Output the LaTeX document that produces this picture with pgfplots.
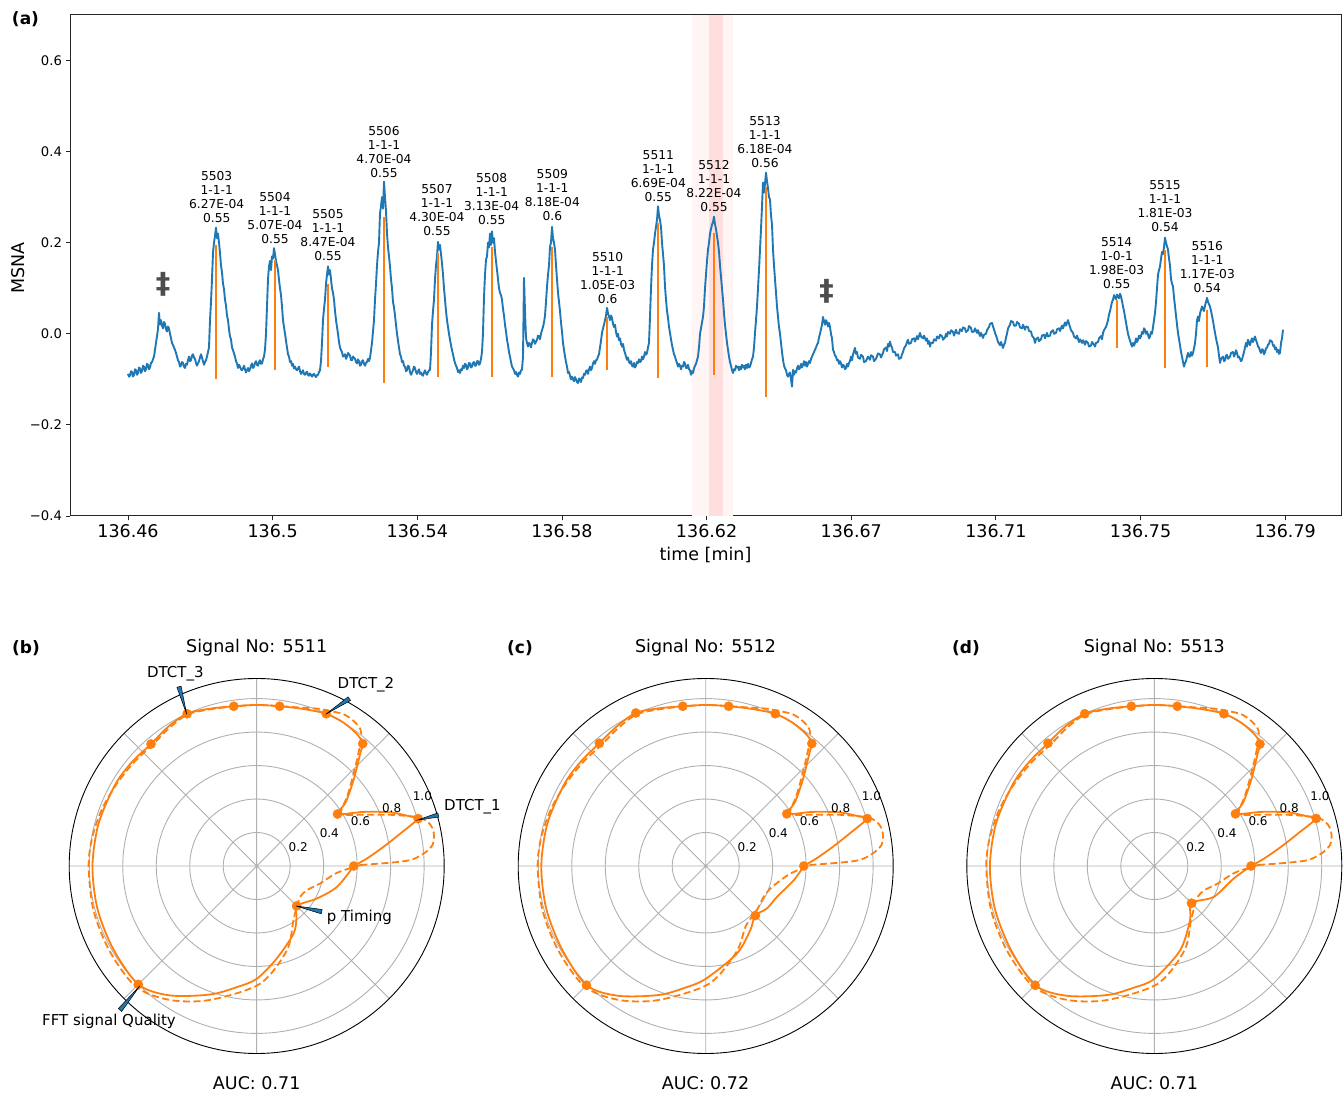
\documentclass[border=0pt]{standalone}
\usepackage{fontspec}
\setmainfont{DejaVu Sans}
\usepackage{pgfplots}
\usepackage{pgfplotstable}
\pgfplotsset{compat=1.18}
\usepgfplotslibrary{polar}
\definecolor{mplblue}{HTML}{1F77B4}
\definecolor{mplorange}{HTML}{FF7F0E}
\definecolor{bandlight}{RGB}{255,245,245}
\definecolor{banddark}{RGB}{255,222,222}
\definecolor{daggercol}{RGB}{77,77,77}
\definecolor{gridgray}{RGB}{176,176,176}

\pgfplotstableread{
a r
0 0.58
4 0.662
8.7 0.769
12.8 0.882
16.36 1.005
17.8 0.966
21.8 0.862
26.8 0.717
32.73 0.574
35.4 0.65
41.7 0.776
47.5 0.917
49.09 0.967
52.6 0.989
58.7 1.001
65.45 1.0
73.6 0.978
81.82 0.964
90 0.962
98.18 0.964
106.4 0.98
114.55 1.0
122.7 0.985
130.91 0.964
140 0.97
150 0.975
165 0.978
180 0.981
195 0.985
210 0.99
225 1.0
236 0.932
250 0.817
260.6 0.734
270 0.674
282 0.567
298.6 0.46
308 0.387
315 0.337
331.7 0.409
345.5 0.496
360 0.58
}\solidb

\pgfplotstableread{
a r
0 0.586
4 0.665
8.7 0.771
12.8 0.884
16.36 1.006
17.8 0.966
21.8 0.862
26.8 0.717
32.73 0.576
35.4 0.652
41.7 0.778
47.5 0.918
49.09 0.968
52.6 0.99
58.7 1.001
65.45 1.0
73.6 0.978
81.82 0.964
90 0.962
98.18 0.964
106.4 0.982
114.55 1.005
122.7 0.988
130.91 0.97
140 0.972
150 0.976
165 0.979
180 0.982
195 0.986
210 0.992
225 1.007
236 0.935
250 0.82
260.6 0.736
270 0.674
289.5 0.556
304.7 0.467
315 0.419
325.2 0.445
336.6 0.464
350.8 0.533
360 0.586
}\solidc

\pgfplotstableread{
a r
0 0.578
4 0.66
8.7 0.768
12.8 0.882
16.36 1.008
17.8 0.966
21.8 0.862
26.8 0.717
32.73 0.576
35.4 0.65
41.7 0.776
47.5 0.915
49.09 0.964
52.6 0.988
58.7 1.001
65.45 1.0
73.6 0.978
81.82 0.964
90 0.962
98.18 0.964
106.4 0.98
114.55 1.0
122.7 0.988
130.91 0.97
140 0.972
150 0.976
165 0.979
180 0.982
195 0.986
210 0.992
225 1.007
236 0.935
250 0.82
260.6 0.736
270 0.674
287 0.527
303.4 0.388
315 0.314
332.5 0.4
351 0.48
360 0.578
}\solidd

\pgfplotstableread{
a r
0.55 0.62
1.43 0.8
2.24 0.921
4.35 1.003
6.84 1.058
9.5 1.074
12.1 1.074
14.6 1.054
16.9 1.003
20.9 0.857
26.3 0.69
30.5 0.603
32.9 0.6
37.6 0.682
42.2 0.769
46.7 0.874
50.5 0.98
52.8 1.025
56.2 1.042
60.1 1.045
64.6 1.025
69 1.007
75 0.98
81.8 0.965
90 0.962
98 0.962
106 0.975
114.5 0.995
122.7 0.975
130 0.955
140 0.96
150 0.97
160 0.985
170 0.997
180 1.004
195 1.01
210 1.015
225 1.02
237 0.954
250.7 0.848
271.6 0.704
289.7 0.535
304 0.392
314.5 0.342
324.7 0.318
334.4 0.333
344.7 0.394
355.2 0.482
360.55 0.62
}\dashedb

\pgfplotstableread{
a r
0.55 0.62
1.43 0.8
2.24 0.921
4.35 1.003
6.84 1.058
9.5 1.074
12.1 1.074
14.6 1.054
16.9 1.003
20.9 0.857
26.3 0.69
30.5 0.603
32.9 0.6
37.6 0.682
42.2 0.769
46.7 0.874
50.5 0.98
52.8 1.025
56.2 1.042
60.1 1.045
64.6 1.025
69 1.007
75 0.98
81.8 0.965
90 0.962
98 0.962
106 0.975
114.5 0.995
122.7 0.975
130 0.955
140 0.96
150 0.97
160 0.985
170 0.997
180 1.004
195 1.01
210 1.015
225 1.02
237 0.954
250.7 0.848
271.6 0.704
289.7 0.545
304 0.43
319 0.404
332 0.392
341 0.41
349 0.454
355 0.51
360.55 0.62
}\dashedc

\pgfplotstableread{
a r
0 0.58
16.36 1.005
32.73 0.574
49.09 0.967
65.45 1.0
81.82 0.964
98.18 0.964
114.55 1.0
130.91 0.964
225 1.0
315 0.337
}\markb

\pgfplotstableread{
a r
0 0.586
16.36 1.006
32.73 0.576
49.09 0.968
65.45 1.0
81.82 0.964
98.18 0.964
114.55 1.005
130.91 0.97
225 1.007
315 0.419
}\markc

\pgfplotstableread{
a r
0 0.578
16.36 1.008
32.73 0.576
49.09 0.964
65.45 1.0
81.82 0.964
98.18 0.964
114.55 1.0
130.91 0.97
225 1.007
315 0.314
}\markd

\pgfplotsset{
  mypolar/.style={
    scale only axis, width=375pt, height=375pt, anchor=center,
    xmin=0, xmax=360, ymin=0, ymax=1.12,
    xtick={0,45,...,315}, xticklabels={},
    ytick={0.2,0.4,0.6,0.8,1.0}, yticklabels={},
    grid=major, major grid style={color=gridgray, line width=0.9pt},
    x axis line style={black, line width=0.9pt},
    y axis line style={draw=none},
    major tick length=0pt,
    clip=false,
  },
  soliddat/.style={mplorange, line width=1.8pt, smooth, tension=0.5},
  dashdat/.style={mplorange, line width=1.8pt, smooth, tension=0.5, dash pattern=on 7pt off 3.5pt},
  markdat/.style={only marks, mark=*, mark size=4.6pt, mark options={fill=mplorange, draw=mplorange}},
}
\newcommand{\radlabels}{%
  \node[font=\fontsize{12}{14}\selectfont] at (axis cs:24.3,0.272) {0.2};
  \node[font=\fontsize{12}{14}\selectfont] at (axis cs:24.3,0.476) {0.4};
  \node[font=\fontsize{12}{14}\selectfont] at (axis cs:23.5,0.676) {0.6};
  \node[font=\fontsize{12}{14}\selectfont] at (axis cs:23.2,0.877) {0.8};
  \node[font=\fontsize{12}{14}\selectfont] at (axis cs:23.0,1.075) {1.0};
}
\newcommand{\ann}[3]{\node[anchor=south, inner sep=0pt, align=center, font=\fontsize{12.25}{14}\selectfont] at (axis cs:#1,#2) {#3};}

\begin{document}
\begin{tikzpicture}[x=1pt,y=1pt]
\useasboundingbox (0,0) rectangle (1344,1095);
\begin{axis}[
  at={(70pt,579pt)}, anchor=south west,
  scale only axis, width=1271pt, height=501pt,
  xmin=-58, xmax=1213, ymin=-0.4, ymax=0.7,
  xtick={0,144.65,289.3,433.95,578.6,723.25,867.9,1012.55,1157.2},
  xticklabels={136.46,136.5,136.54,136.58,136.62,136.67,136.71,136.75,136.79},
  ytick={-0.4,-0.2,0,0.2,0.4,0.6},
  yticklabels={−0.4,−0.2,0.0,0.2,0.4,0.6},
  xticklabel style={font=\fontsize{17.5}{21}\selectfont},
  yticklabel style={font=\fontsize{13.2}{16}\selectfont},
  tick align=outside, tick pos=left, major tick length=4.5pt,
  axis line style={black!85, line width=1pt},
  tick style={black!85, line width=0.9pt},
  unbounded coords=jump,
]
\fill[bandlight] (axis cs:564,-0.4) rectangle (axis cs:605,0.7);
\fill[banddark] (axis cs:581,-0.4) rectangle (axis cs:595,0.7);
\addplot[mplblue, line width=1.9pt, line join=round] coordinates {
(0,-0.088)(1,-0.094)(2,-0.092)(3,-0.082)(4,-0.084)(5,-0.094)(6,-0.090)(7,-0.078)(8,-0.080)(9,-0.09)(10,-0.086)(11,-0.074)(12,-0.076)(13,-0.086)(14,-0.082)(15,-0.07)(16,-0.072)(17,-0.082)(18,-0.078)(19,-0.066)(20,-0.068)(21,-0.078)(22,-0.074)(23,-0.064)(24,-0.062)
(26,-0.05)(28,-0.02)(30,0.01)(31,0.046)(32,0.02)(33,0.03)(34,0.018)(35,0.012)(36,0.026)(37,0.022)(38,0.01)(39,0.005)(40,0.016)(41,0.012)(42,0.0)
(43,-0.01)(44,-0.02)(45,-0.025)(46,-0.03)(47,-0.035)(48,-0.042)(49,-0.05)(50,-0.058)(51,-0.062)(52,-0.072)(53,-0.07)(54,-0.062)(55,-0.064)(56,-0.072)(57,-0.075)(58,-0.066)(59,-0.068)(60,-0.058)(61,-0.05)(62,-0.06)(63,-0.058)(64,-0.048)(65,-0.045)(66,-0.052)(67,-0.055)(68,-0.064)(69,-0.07)(70,-0.065)(71,-0.06)(72,-0.052)(73,-0.045)(74,-0.052)(75,-0.06)(76,-0.068)(77,-0.062)(78,-0.058)
(79,-0.05)(81,-0.03)(82,0.03)(83,0.07)(84,0.12)(85,0.178)(86,0.2)(87,0.215)(88,0.233)(89,0.21)(90,0.22)(91,0.2)(92,0.178)(93,0.15)(94,0.135)(95,0.11)(96,0.098)(97,0.075)(98,0.062)(99,0.04)(100,0.03)(101,0.01)(102,-0.006)(103,-0.012)(104,-0.03)(105,-0.036)(107,-0.05)(108,-0.06)(109,-0.065)(110,-0.075)(111,-0.068)(112,-0.072)
(113,-0.078)(114,-0.08)(115,-0.076)(116,-0.07)(117,-0.078)(118,-0.085)(119,-0.08)(120,-0.075)(121,-0.082)(122,-0.078)(123,-0.07)(124,-0.065)(125,-0.075)(126,-0.072)(127,-0.064)(128,-0.06)(129,-0.068)(130,-0.07)(131,-0.062)(132,-0.058)(133,-0.066)(134,-0.065)(135,-0.056)(136,-0.05)
(137,-0.035)(138,0.0)(139,0.06)(140,0.12)(141,0.148)(142,0.16)(143,0.14)(144,0.17)(145,0.165)(146,0.188)(147,0.175)(148,0.16)(149,0.15)(150,0.14)(151,0.118)(152,0.1)(153,0.085)(154,0.06)(155,0.03)(156,0.015)(157,0.0)(158,-0.015)(159,-0.03)(160,-0.045)(161,-0.05)(162,-0.062)(163,-0.06)(164,-0.07)(165,-0.066)(166,-0.076)(167,-0.072)
(168,-0.078)(169,-0.08)(170,-0.076)(171,-0.072)(172,-0.082)(173,-0.088)(174,-0.084)(175,-0.08)(176,-0.088)(177,-0.09)(178,-0.086)(179,-0.083)(180,-0.09)(181,-0.092)(182,-0.087)(183,-0.09)(184,-0.094)(185,-0.09)(186,-0.088)(187,-0.092)(188,-0.095)(189,-0.091)(190,-0.09)(191,-0.084)(192,-0.08)
(193,-0.06)(194,-0.02)(195,0.03)(196,0.055)(197,0.075)(198,0.11)(199,0.13)(200,0.148)(201,0.13)(202,0.14)(203,0.12)(204,0.1)(205,0.09)(206,0.075)(207,0.05)(208,0.03)(209,0.015)(210,0.0)(211,-0.018)(212,-0.03)(213,-0.036)(214,-0.04)(215,-0.05)(217,-0.045)(218,-0.055)(219,-0.05)(220,-0.042)(222,-0.048)(223,-0.058)(224,-0.058)(225,-0.05)(227,-0.055)
(228,-0.062)(229,-0.065)(230,-0.056)(231,-0.06)(232,-0.07)(233,-0.068)(234,-0.06)(235,-0.058)(236,-0.066)(237,-0.07)(238,-0.064)(239,-0.062)(240,-0.055)(241,-0.06)
(242,-0.053)(244,-0.02)(246,0.03)(247,0.075)(248,0.11)(249,0.15)(250,0.18)(251,0.2)(252,0.265)(253,0.28)(254,0.3)(255,0.275)(256,0.334)(257,0.3)(258,0.27)(259,0.22)(260,0.19)(261,0.17)(262,0.148)(263,0.12)(264,0.1)(265,0.07)(266,0.058)(267,0.04)(268,0.02)(269,0.0)(270,-0.015)(271,-0.03)(272,-0.045)(273,-0.05)(274,-0.062)(275,-0.06)(276,-0.07)(277,-0.072)
(278,-0.082)(279,-0.08)(280,-0.07)(281,-0.072)(282,-0.084)(283,-0.09)(284,-0.085)(285,-0.08)(286,-0.072)(287,-0.075)(288,-0.084)(289,-0.088)(290,-0.082)(291,-0.078)(292,-0.088)(293,-0.085)(294,-0.09)(295,-0.092)(296,-0.085)(297,-0.08)(298,-0.087)(299,-0.09)(300,-0.084)(301,-0.08)
(302,-0.08)(303,-0.04)(304,0.02)(305,0.05)(306,0.075)(307,0.12)(308,0.15)(309,0.17)(310,0.202)(311,0.185)(312,0.195)(313,0.175)(314,0.155)(315,0.13)(316,0.1)(317,0.075)(318,0.05)(319,0.03)(320,0.015)(321,0.0)(322,-0.013)(323,-0.025)(324,-0.036)(325,-0.045)(326,-0.056)(327,-0.064)(328,-0.07)(329,-0.075)(330,-0.084)(331,-0.08)(332,-0.086)
(333,-0.078)(334,-0.08)(335,-0.07)(336,-0.075)(337,-0.066)(338,-0.068)(339,-0.078)(340,-0.074)(341,-0.064)(342,-0.065)(343,-0.074)(344,-0.072)(345,-0.064)(346,-0.062)(347,-0.07)(348,-0.07)(349,-0.06)(350,-0.06)(351,-0.068)(352,-0.065)(353,-0.055)(354,-0.04)
(355,0.002)(356,0.08)(357,0.13)(358,0.163)(359,0.17)(360,0.2)(361,0.19)(362,0.22)(363,0.195)(364,0.225)(365,0.2)(366,0.21)(367,0.18)(368,0.16)(369,0.14)(370,0.12)(371,0.1)(372,0.09)(373,0.085)(374,0.075)(375,0.055)(376,0.04)(377,0.02)(378,0.005)(379,-0.013)(380,-0.025)(381,-0.04)(382,-0.05)(383,-0.062)(384,-0.072)(385,-0.076)(386,-0.08)(387,-0.088)(388,-0.084)(389,-0.09)(390,-0.094)(391,-0.085)(392,-0.088)(393,-0.08)(394,-0.079)
(395,-0.05)(396,0.123)(397,0.05)(398,-0.01)(399,-0.02)(400,-0.028)(401,-0.02)(402,-0.022)(403,-0.03)(404,-0.02)(405,-0.012)(406,-0.015)(407,-0.022)(409,-0.013)(410,-0.004)(411,-0.005)(412,-0.012)(413,0.0)(414,0.008)(415,0.015)
(416,0.025)(417,0.04)(418,0.07)(419,0.104)(420,0.13)(421,0.15)(422,0.191)(423,0.2)(424,0.235)(425,0.21)(426,0.2)(427,0.185)(428,0.15)(429,0.12)(430,0.09)(431,0.07)(432,0.05)(433,0.025)(434,0.005)(435,-0.02)(436,-0.035)(437,-0.05)(438,-0.062)(439,-0.072)(440,-0.086)(441,-0.084)(442,-0.092)(443,-0.1)(444,-0.094)(445,-0.1)(446,-0.104)(447,-0.095)(448,-0.1)(449,-0.106)(450,-0.108)(451,-0.098)(452,-0.1)(453,-0.106)(454,-0.096)(455,-0.097)
(456,-0.088)(457,-0.09)(458,-0.082)(459,-0.08)(460,-0.088)(461,-0.078)(462,-0.072)(463,-0.08)(464,-0.075)(465,-0.065)(466,-0.06)(467,-0.066)(468,-0.058)(469,-0.057)(470,-0.05)(471,-0.045)(472,-0.03)(473,-0.015)
(474,0.002)(475,0.012)(476,0.02)(477,0.03)(478,0.04)(479,0.057)(480,0.045)(481,0.038)(482,0.03)(483,0.04)(484,0.035)(485,0.022)(486,0.015)(487,0.02)(488,0.004)(489,-0.006)(490,0.0)(491,-0.014)(492,-0.01)(493,-0.022)(494,-0.028)(495,-0.022)(496,-0.035)(497,-0.042)(498,-0.05)(499,-0.057)(500,-0.052)(501,-0.062)(502,-0.065)(503,-0.06)(504,-0.07)(505,-0.072)(506,-0.064)(507,-0.074)(508,-0.07)(509,-0.062)(510,-0.064)(511,-0.056)(512,-0.062)(513,-0.06)(514,-0.05)(515,-0.056)(516,-0.05)(517,-0.04)(518,-0.046)(519,-0.042)
(520,-0.03)(521,-0.02)(522,0.037)(523,0.1)(524,0.15)(525,0.185)(526,0.2)(527,0.22)(528,0.235)(529,0.25)(530,0.28)(531,0.26)(532,0.25)(533,0.235)(534,0.2)(535,0.175)(536,0.15)(537,0.104)(538,0.075)(539,0.05)(540,0.035)(541,0.015)(542,0.002)(543,-0.012)(544,-0.025)(545,-0.035)(546,-0.045)(547,-0.05)(548,-0.058)(549,-0.064)(550,-0.072)(551,-0.066)(552,-0.07)(553,-0.078)(554,-0.07)(555,-0.072)(556,-0.062)(557,-0.065)(558,-0.075)(559,-0.075)(560,-0.068)(561,-0.078)(562,-0.08)(563,-0.09)(564,-0.082)(565,-0.086)
(566,-0.076)(567,-0.07)(568,-0.066)(569,-0.058)(570,-0.05)(571,-0.03)(572,0.0)(573,0.012)(574,0.025)(575,0.037)(576,0.06)(577,0.1)(578,0.13)(579,0.16)(580,0.185)(581,0.2)(582,0.22)(583,0.23)(584,0.24)(585,0.245)(586,0.257)(587,0.24)(588,0.23)(589,0.215)(590,0.2)(591,0.18)(592,0.15)(593,0.125)(594,0.1)(595,0.075)(596,0.045)(597,0.02)(598,0.0)(599,-0.02)(600,-0.035)(601,-0.05)(602,-0.062)(603,-0.07)(604,-0.08)(605,-0.086)(606,-0.078)(607,-0.08)(608,-0.07)(609,-0.074)(610,-0.072)(611,-0.08)(612,-0.072)(613,-0.078)(614,-0.068)(615,-0.074)(616,-0.07)(617,-0.078)(618,-0.068)(619,-0.075)(620,-0.066)(621,-0.074)(622,-0.072)
(623,-0.064)(624,-0.056)(625,-0.05)(626,-0.03)(627,0.002)(628,0.03)(629,0.06)(630,0.1)(631,0.14)(632,0.185)(633,0.23)(634,0.28)(635,0.332)(636,0.31)(637,0.33)(638,0.354)(639,0.335)(640,0.32)(641,0.3)(642,0.295)(643,0.26)(644,0.24)(645,0.185)(646,0.15)(647,0.12)(648,0.09)(649,0.06)(650,0.037)(651,0.015)(652,0.0)(653,-0.02)(654,-0.04)(655,-0.057)(656,-0.07)(657,-0.076)(658,-0.08)(659,-0.09)(660,-0.094)(661,-0.088)(662,-0.085)(663,-0.1)(664,-0.116)(665,-0.079)(666,-0.09)(667,-0.082)(668,-0.085)(669,-0.076)(670,-0.07)(671,-0.078)(672,-0.075)(673,-0.066)(674,-0.074)(675,-0.068)(676,-0.06)(677,-0.07)(678,-0.062)(679,-0.072)(680,-0.066)(681,-0.06)(682,-0.064)
(683,-0.055)(684,-0.05)(685,-0.045)(686,-0.04)(687,-0.035)(688,-0.03)(689,-0.024)(690,-0.02)(691,-0.008)(692,0.0)(693,0.01)(694,0.02)(695,0.037)(696,0.028)(697,0.02)(698,0.03)(699,0.025)(700,0.016)(701,0.024)(702,0.015)(703,0.0)(704,-0.01)(705,-0.035)(706,-0.04)(707,-0.048)(708,-0.05)(709,-0.058)(710,-0.057)(711,-0.066)(712,-0.06)(713,-0.065)(714,-0.074)(715,-0.068)(716,-0.07)(717,-0.078)(718,-0.075)(719,-0.066)(720,-0.072)(721,-0.064)
(722,-0.06)(723,-0.05)(724,-0.058)(725,-0.045)(726,-0.038)(727,-0.031)(728,-0.044)(729,-0.04)(730,-0.052)(732,-0.055)(733,-0.046)(735,-0.05)(736,-0.062)(738,-0.06)(740,-0.05)(742,-0.057)(743,-0.047)(745,-0.05)(746,-0.06)(748,-0.055)(750,-0.043)(752,-0.045)(753,-0.052)(755,-0.042)(756,-0.034)(758,-0.03)(759,-0.038)(760,-0.022)(761,-0.028)(762,-0.017)(763,-0.026)(764,-0.03)(765,-0.04)(767,-0.04)(768,-0.048)(770,-0.045)(771,-0.055)(773,-0.053)(774,-0.045)(775,-0.04)(776,-0.032)(778,-0.025)(779,-0.018)(780,-0.013)(781,-0.022)(783,-0.02)(784,-0.012)(786,-0.01)(787,-0.017)(789,-0.005)(790,-0.012)(792,0.002)(793,-0.006)(795,-0.01)(796,-0.004)(798,-0.015)(799,-0.01)(800,-0.022)(801,-0.016)(802,-0.028)(803,-0.02)(805,-0.02)(806,-0.012)(808,-0.015)(809,-0.006)(811,-0.01)(812,-0.002)(814,-0.005)(815,-0.013)(817,-0.008)(818,0.0)(819,-0.006)(820,0.004)(822,0.0)(823,0.008)(825,0.004)(826,-0.004)(828,0.009)(829,0.002)(831,0.0)(832,0.01)(834,0.006)(835,0.014)(837,0.012)(838,0.004)(840,0.008)(841,0.017)(843,0.013)(844,0.004)(846,0.005)(847,0.012)(849,0.002)(850,0.008)(852,-0.005)(853,0.002)(855,-0.009)(856,-0.002)(858,0.0)(859,0.008)(861,0.015)(862,0.022)(864,0.024)(865,0.016)(866,0.01)(867,0.002)(869,-0.01)(870,-0.018)(872,-0.025)(873,-0.018)(875,-0.031)(876,-0.024)(877,-0.02)(878,-0.008)(879,0.0)(880,0.012)(882,0.02)(883,0.028)(885,0.026)(886,0.018)(888,0.018)(889,0.026)(891,0.022)(892,0.014)(894,0.012)(895,0.02)(897,0.009)(898,0.016)(900,0.015)(901,0.006)(903,0.005)(904,-0.004)(906,-0.01)(907,-0.02)(908,-0.012)(910,-0.008)(911,-0.016)(913,-0.012)(914,-0.004)(916,-0.002)(917,-0.01)(919,0.002)(920,-0.006)(922,-0.004)(923,0.004)(925,0.008)(926,0.0)(928,0.002)(929,0.01)(931,0.012)(932,0.006)(934,0.018)(935,0.012)(937,0.025)(938,0.018)(940,0.03)(941,0.022)(942,0.015)(943,0.008)(945,0.002)(946,-0.006)(948,-0.01)(949,-0.004)(951,-0.018)(952,-0.012)(954,-0.02)(955,-0.014)(957,-0.024)(958,-0.016)(960,-0.02)(961,-0.028)(963,-0.026)(964,-0.018)(966,-0.024)(967,-0.028)(968,-0.02)(970,-0.018)(971,-0.01)(973,-0.005)(974,-0.012)(975,0.002)(976,0.008)(978,0.015)(979,0.022)(980,0.03)
(981,0.042)(982,0.05)(983,0.06)(984,0.07)(985,0.075)(986,0.085)(987,0.08)(988,0.076)(989,0.086)(990,0.082)(991,0.078)(992,0.088)(993,0.082)(994,0.072)(995,0.06)(996,0.05)(997,0.037)(998,0.025)(999,0.012)(1000,0.0)(1001,-0.008)(1002,-0.015)(1003,-0.022)(1004,-0.028)(1005,-0.02)(1006,-0.026)(1007,-0.02)(1008,-0.01)(1009,-0.018)(1010,-0.013)(1011,-0.004)(1012,-0.01)(1013,-0.005)(1014,0.004)(1015,0.0)(1016,0.012)(1017,0.009)(1018,0.0)(1019,0.005)(1020,-0.002)(1021,-0.01)(1022,-0.006)(1023,0.004)(1024,0.0)
(1025,0.015)(1026,0.03)(1027,0.046)(1028,0.07)(1029,0.1)(1030,0.13)(1031,0.14)(1032,0.148)(1033,0.165)(1034,0.18)(1035,0.175)(1036,0.19)(1037,0.211)(1038,0.2)(1039,0.192)(1040,0.185)(1041,0.165)(1042,0.15)(1043,0.12)(1044,0.11)(1045,0.104)(1046,0.08)(1047,0.06)(1048,0.04)(1049,0.02)(1050,0.002)(1051,-0.012)(1052,-0.025)(1053,-0.04)(1054,-0.05)(1055,-0.062)(1056,-0.072)(1057,-0.064)(1058,-0.06)(1059,-0.05)(1060,-0.042)(1061,-0.05)(1062,-0.05)(1063,-0.04)(1064,-0.048)(1065,-0.042)
(1066,-0.032)(1067,-0.02)(1068,0.0)(1069,0.03)(1070,0.038)(1071,0.028)(1072,0.045)(1073,0.052)(1074,0.06)(1075,0.055)(1076,0.05)(1077,0.062)(1078,0.07)(1079,0.079)(1080,0.07)(1081,0.065)(1082,0.06)(1083,0.05)(1084,0.04)(1085,0.028)(1086,0.015)(1087,0.002)(1088,-0.01)(1089,-0.02)(1090,-0.03)(1091,-0.048)(1092,-0.064)
(1093,-0.055)(1095,-0.05)(1096,-0.06)(1097,-0.058)(1098,-0.048)(1099,-0.046)(1100,-0.055)(1102,-0.05)(1103,-0.042)(1105,-0.04)(1106,-0.05)(1107,-0.045)(1108,-0.036)(1109,-0.042)(1110,-0.052)(1111,-0.05)(1113,-0.06)(1114,-0.057)(1115,-0.048)(1116,-0.04)(1117,-0.03)(1118,-0.02)(1119,-0.028)(1120,-0.013)(1121,-0.02)(1122,-0.025)(1123,-0.016)(1124,-0.01)(1125,-0.018)(1127,-0.006)(1128,-0.014)(1129,-0.02)(1130,-0.028)(1131,-0.03)(1132,-0.038)(1133,-0.042)(1134,-0.034)(1135,-0.035)(1136,-0.045)(1137,-0.04)(1138,-0.032)(1139,-0.03)(1140,-0.024)(1141,-0.022)(1142,-0.014)(1144,-0.017)(1145,-0.026)(1146,-0.025)(1147,-0.034)(1148,-0.03)(1149,-0.04)(1150,-0.035)(1151,-0.044)(1152,-0.042)(1153,-0.02)(1154,-0.01)(1155,0.009)
};
\addplot[mplorange, line width=1.8pt] coordinates {
(88,0.195)(88,-0.1)(88,nan)
(147,0.163)(147,-0.079)(147,nan)
(200,0.11)(200,-0.072)(200,nan)
(256,0.257)(256,-0.108)(256,nan)
(310,0.178)(310,-0.094)(310,nan)
(364,0.191)(364,-0.094)(364,nan)
(424,0.191)(424,-0.094)(424,nan)
(479,0.037)(479,-0.079)(479,nan)
(530,0.244)(530,-0.097)(530,nan)
(586,0.222)(586,-0.09)(586,nan)
(638,0.323)(638,-0.138)(638,nan)
(989,0.075)(989,-0.031)(989,nan)
(1037,0.185)(1037,-0.075)(1037,nan)
(1079,0.053)(1079,-0.072)
};
\node[text=daggercol, font=\fontsize{29}{32}\selectfont\bfseries] at (axis cs:35,0.108) {‡};
\node[text=daggercol, font=\fontsize{29}{32}\selectfont\bfseries] at (axis cs:698.7,0.093) {‡};
\ann{88.7}{0.2444}{5503\\1-1-1\\6.27E-04\\0.55}
\ann{147}{0.1967}{5504\\1-1-1\\5.07E-04\\0.55}
\ann{200}{0.16}{5505\\1-1-1\\8.47E-04\\0.55}
\ann{256}{0.3433}{5506\\1-1-1\\4.70E-04\\0.55}
\ann{309}{0.2143}{5507\\1-1-1\\4.30E-04\\0.55}
\ann{363.7}{0.239}{5508\\1-1-1\\3.13E-04\\0.55}
\ann{424.3}{0.248}{5509\\1-1-1\\8.18E-04\\0.6}
\ann{479.7}{0.0664}{5510\\1-1-1\\1.05E-03\\0.6}
\ann{530.3}{0.2905}{5511\\1-1-1\\6.69E-04\\0.55}
\ann{586}{0.2686}{5512\\1-1-1\\8.22E-04\\0.55}
\ann{637}{0.3637}{5513\\1-1-1\\6.18E-04\\0.56}
\ann{988.7}{0.0993}{5514\\1-0-1\\1.98E-03\\0.55}
\ann{1037}{0.2237}{5515\\1-1-1\\1.81E-03\\0.54}
\ann{1079.3}{0.0905}{5516\\1-1-1\\1.17E-03\\0.54}
\end{axis}
\node[rotate=90, font=\fontsize{17.5}{21}\selectfont] at (18,827) {MSNA};
\node[font=\fontsize{17.5}{21}\selectfont] at (705.5,540) {time [min]};
\node[font=\fontsize{17}{20}\selectfont\bfseries] at (25.5,1076) {(a)};

% (b)
\begin{polaraxis}[mypolar, at={(256.7pt,229pt)}]
\addplot[dashdat] table[x=a,y=r] {\dashedb};
\addplot[soliddat] table[x=a,y=r] {\solidb};
\addplot[markdat] table[x=a,y=r] {\markb};
\radlabels
\end{polaraxis}
% (c)
\begin{polaraxis}[mypolar, at={(705.7pt,229pt)}]
\addplot[dashdat] table[x=a,y=r] {\dashedc};
\addplot[soliddat] table[x=a,y=r] {\solidc};
\addplot[markdat] table[x=a,y=r] {\markc};
\radlabels
\end{polaraxis}
% (d)
\begin{polaraxis}[mypolar, at={(1154.3pt,229pt)}]
\addplot[dashdat] table[x=a,y=r] {\dashedb};
\addplot[soliddat] table[x=a,y=r] {\solidd};
\addplot[markdat] table[x=a,y=r] {\markd};
\radlabels
\end{polaraxis}

% wedge annotations in (b)
\filldraw[fill=mplblue, draw=black, line width=0.5pt] (186.7,380.7) -- (181.1,408.9) -- (176.9,407.7) -- cycle;
\filldraw[fill=mplblue, draw=black, line width=0.5pt] (325.7,380.7) -- (348.1,398.1) -- (350.5,394.5) -- cycle;
\filldraw[fill=mplblue, draw=black, line width=0.5pt] (417.7,275) -- (437.8,282.1) -- (438.8,277.9) -- cycle;
\filldraw[fill=mplblue, draw=black, line width=0.5pt] (296,189) -- (322.2,185.5) -- (321.2,181.2) -- cycle;
\filldraw[fill=mplblue, draw=black, line width=0.5pt] (140,109.3) -- (121.7,83.6) -- (118.3,86.4) -- cycle;
\begin{scope}[every node/.style={font=\fontsize{15}{18}\selectfont}]
\node at (175.3,421.7) {DTCT\_3};
\node at (366,410) {DTCT\_2};
\node[anchor=west, inner sep=0pt] at (444,288.3) {DTCT\_1};
\node at (359.3,177.3) {p Timing};
\node at (109,73.3) {FFT signal Quality};
\end{scope}

\begin{scope}[every node/.style={font=\fontsize{17.5}{21}\selectfont}]
\node at (256.7,447.7) {Signal No: 5511};
\node at (705.5,447.7) {Signal No: 5512};
\node at (1154.3,447.7) {Signal No: 5513};
\node at (256.7,11.7) {AUC: 0.71};
\node at (705.5,11.7) {AUC: 0.72};
\node at (1154.3,11.7) {AUC: 0.71};
\end{scope}
\node[font=\fontsize{17}{20}\selectfont\bfseries] at (26,447) {(b)};
\node[font=\fontsize{17}{20}\selectfont\bfseries] at (520,447) {(c)};
\node[font=\fontsize{17}{20}\selectfont\bfseries] at (966,447) {(d)};
\end{tikzpicture}
\end{document}
